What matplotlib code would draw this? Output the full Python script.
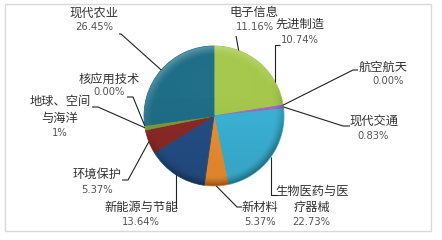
import matplotlib
matplotlib.use("Agg")
import numpy as np
import matplotlib.pyplot as plt
from matplotlib.patches import Rectangle, Circle

plt.rcParams['font.family'] = ['Noto Sans CJK SC', 'DejaVu Sans']

# Slice data, clockwise from 12 o'clock
names = ['电子信息', '先进制造', '航空航天', '现代交通', '生物医药与医\n疗器械',
         '新材料', '新能源与节能', '环境保护', '地球、空间\n与海洋', '核应用技术', '现代农业']
values = [11.16, 10.74, 0.00, 0.83, 22.73, 5.37, 13.64, 5.37, 1.0, 0.00, 26.45]
pct_labels = ['11.16%', '10.74%', '0.00%', '0.83%', '22.73%', '5.37%', '13.64%',
              '5.37%', '1%', '0.00%', '26.45%']

colors = ['#a5c84c', '#a5c84c', '#c0504d', '#9a6bc8', '#3bb4d8', '#f09030',
          '#254f86', '#8c2a27', '#7b9c3a', '#c0504d', '#1f6e88']

# layout (pixel coordinates, y downward)
cx, cy, R = 214, 116, 70
# label centre for the name (first line) and for the percent line
name_pos = [(254, 12), (300, 24), (383, 67), (374, 122), (312, 191), (260, 207),
            (141, 207), (97, 174), (60, 102), (109, 79), (94, 13)]
pct_pos = [(255, 27), (300, 40), (388, 81), (373, 136), (311, 222), (260, 222),
           (141, 222), (97, 190), (60, 133), (109, 92), (94, 27)]
# leader line: elbow point (None x = straight down/up from the anchor) and hook end
elbows = [(236, 36), (None, 45), (353, 70), (343, 126), (None, 195), (237, 207),
          (None, 208), (128, 180), (98, 107), (133, 97), (121, 34)]
hooks = [None, 280, 358, 350, 278, 242, 177, 122, 92, 127, 119]

fig = plt.figure(figsize=(4.42, 2.40), dpi=100)
ax = fig.add_axes([0, 0, 1, 1])

ax.add_patch(Rectangle((4.5, 3.5), 426, 227, fill=False, ec='#d9d9d9', lw=1.0))

wedges, _ = ax.pie(values, colors=colors, startangle=-90, counterclock=True,
                   center=(cx, cy), radius=R, frame=True,
                   wedgeprops=dict(linewidth=0.6))
for w, v, c in zip(wedges, values, colors):
    w.set_edgecolor(c)
    if v == 0:
        w.set_visible(False)
ax.set_xlim(0, 442)
ax.set_ylim(240, 0)
ax.set_aspect('equal')
ax.axis('off')

# bevel shading over the pie: lit from above, darker toward the lower rim
n = 400
gx, gy = np.meshgrid(np.linspace(-1, 1, n), np.linspace(-1, 1, n))
rr = np.sqrt(gx ** 2 + gy ** 2)
rim = np.clip((rr - 0.86) / 0.14, 0, 1) ** 1.5
facing = -(gx * 0.35 + gy * 0.94) / np.maximum(rr, 1e-6)
inside = rr <= 1

dark = np.zeros((n, n, 4))
dark[..., 3] = np.where(inside, 0.08 * np.clip(gy + 0.3, 0, 1)
                        + 0.35 * rim * np.clip(-facing + 0.2, 0, 1), 0)
hl = np.zeros((n, n, 4))
hl[..., :3] = 1.0
hl[..., 3] = np.where(inside, 0.30 * rim * np.clip(facing, 0, 1)
                      + 0.06 * np.clip(-gy, 0, 1) * (1 - rr), 0)
for layer in (dark, hl):
    im = ax.imshow(layer, extent=(cx - R, cx + R, cy + R, cy - R), zorder=3,
                   interpolation='bilinear')
    im.set_clip_path(Circle((cx, cy), R, transform=ax.transData))
ax.set_xlim(0, 442)
ax.set_ylim(240, 0)

total = sum(values)
cum = 0.0
for i, v in enumerate(values):
    mid = (cum + v / 2) / total * 360
    cum += v
    ang = np.deg2rad(-90 + mid)
    ax_, ay_ = cx + R * np.cos(ang), cy + R * np.sin(ang)
    ex, ey = elbows[i]
    if ex is None:
        ex = ax_
    xs = [ax_, ex]
    ys = [ay_, ey]
    if hooks[i] is not None:
        xs.append(hooks[i])
        ys.append(ey)
    ax.plot(xs, ys, color='#222222', lw=0.8, zorder=4, solid_capstyle='butt')

    lines = names[i].split('\n')
    nx, ny = name_pos[i]
    for k, line in enumerate(lines):
        ax.text(nx, ny + k * 16, line, fontsize=8.8, color='#333333',
                ha='center', va='center', zorder=5)
    px, py = pct_pos[i]
    ax.text(px, py, pct_labels[i], fontsize=7.2, color='#555555',
            family='DejaVu Sans', ha='center', va='center', zorder=5)

fig.savefig('out.png', dpi=100, facecolor='white')
